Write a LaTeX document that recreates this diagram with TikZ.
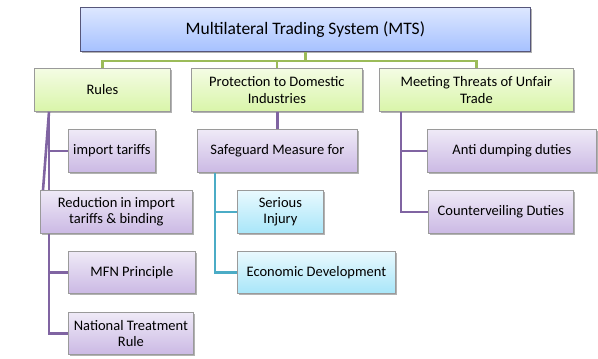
\documentclass[tikz,border=0pt]{standalone}
\usepackage{fontspec}
\setmainfont{Carlito}
\usetikzlibrary{shadows,calc}
\definecolor{gline}{HTML}{9BBB59}
\definecolor{pline}{HTML}{8064A2}
\definecolor{tline}{HTML}{4BACC6}
\definecolor{bord}{HTML}{9A9A9A}
\definecolor{blueT}{HTML}{DDE7FF}
\definecolor{blueB}{HTML}{A6C1FF}
\definecolor{greenT}{HTML}{F4FCE4}
\definecolor{greenB}{HTML}{D9F5A9}
\definecolor{purT}{HTML}{EFEAF7}
\definecolor{purB}{HTML}{CBB9E4}
\definecolor{tealT}{HTML}{E9F9FE}
\definecolor{tealB}{HTML}{A8E6F9}
\begin{document}
\begin{tikzpicture}[x=1pt,y=-1pt,
  box/.style={draw=bord, line width=0.8pt, anchor=north west, inner sep=0pt,
    align=center, font=\fontsize{14.5}{16.5}\selectfont,
    drop shadow={shadow xshift=1.3pt,shadow yshift=-1.3pt,opacity=0.3,fill=black}},
  bluebox/.style={box, draw=bord!80!blue!70!black, top color=blueT, bottom color=blueB, font=\fontsize{17.5}{20}\selectfont},
  greenbox/.style={box, top color=greenT, bottom color=greenB},
  purbox/.style={box, top color=purT, bottom color=purB},
  tealbox/.style={box, top color=tealT, bottom color=tealB},
  gconn/.style={draw=gline, line width=2.6pt},
  pconn/.style={draw=pline, line width=2.6pt},
  tconn/.style={draw=tline, line width=2.6pt}]
\useasboundingbox (0,0) rectangle (598,359);
% boxes
\node[bluebox, minimum width=450pt, minimum height=44pt] (top) at (80,7) {Multilateral Trading System (MTS)};
\node[greenbox, minimum width=136pt, minimum height=43pt] (rules) at (34,68) {Rules};
\node[greenbox, minimum width=171pt, minimum height=43pt] (prot) at (191,68) {Protection to Domestic\\Industries};
\node[greenbox, minimum width=194pt, minimum height=43pt] (meet) at (379,68) {Meeting Threats of Unfair\\Trade};
\node[purbox, minimum width=87pt, minimum height=43pt] (imp) at (68,129) {import tariffs};
\node[purbox, minimum width=152pt, minimum height=43pt] (red) at (40,190) {Reduction in import\\tariffs \& binding};
\node[purbox, minimum width=127pt, minimum height=42pt] (mfn) at (68,251) {MFN Principle};
\node[purbox, minimum width=125pt, minimum height=42pt] (nat) at (68,312) {National Treatment\\Rule};
\node[purbox, minimum width=160pt, minimum height=43pt] (safe) at (197,129) {Safeguard Measure for};
\node[tealbox, minimum width=86pt, minimum height=43pt] (ser) at (237,190) {Serious\\Injury};
\node[tealbox, minimum width=158pt, minimum height=42pt] (eco) at (237,251) {Economic Development};
\node[purbox, minimum width=169pt, minimum height=43pt] (anti) at (427,129) {Anti dumping duties};
\node[purbox, minimum width=145pt, minimum height=43pt] (cnt) at (428,190) {Counterveiling Duties};
% green bus
\coordinate (bus) at ($(top.south)+(0,9)$);
\path[gconn] (top.south) -- (bus);
\path[gconn] (rules.north) |- (bus) -| (meet.north);
\path[gconn] (prot.north) -- (prot.north|-bus);
% rules branch
\coordinate (r1) at ($(rules.south west)+(15,0)$);
\coordinate (rd) at ($(red.north west)+(3,0)$);
\path[pconn] (r1) -- (r1|-red.north);
\path[pconn] (r1) -- (rd);
\path[pconn] (r1|-imp.west) -- (imp.west);
\path[pconn] (r1|-red.south) |- (nat.west);
\path[pconn] (r1|-mfn.west) -- (mfn.west);
% protection branch
\path[pconn] (safe.north) -- (safe.north|-prot.south);
\coordinate (s1) at ($(safe.south west)+(18,0)$);
\path[tconn] (s1) |- (eco.west);
\path[tconn] (s1|-ser.west) -- (ser.west);
% meeting branch
\coordinate (m1) at ($(meet.south west)+(22,0)$);
\path[pconn] (m1) |- (cnt.west);
\path[pconn] (m1|-anti.west) -- (anti.west);
\end{tikzpicture}
\end{document}
